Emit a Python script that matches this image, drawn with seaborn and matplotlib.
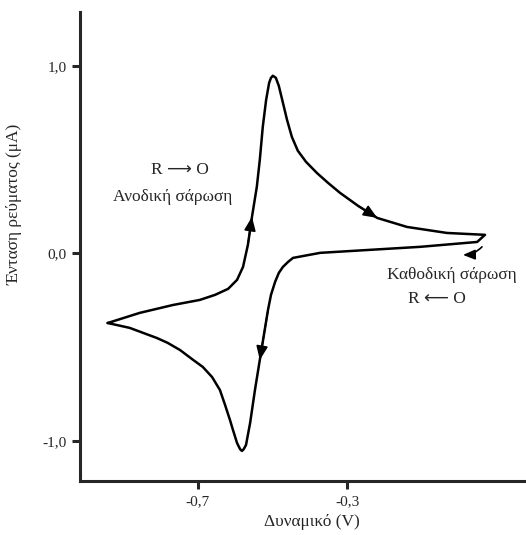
import numpy as np
import pandas as pd
import matplotlib
matplotlib.use("Agg")
import matplotlib.pyplot as plt
import seaborn as sns

# Δεδομένα κυκλικής βολταμμετρίας (εκτίμηση από την εικόνα)
# Ανοδική σάρωση: από το αριστερό άκρο προς τα δεξιά
dynamiko_anod = [-0.942, -0.856, -0.767, -0.695, -0.654, -0.619, -0.595, -0.579,
                 -0.566, -0.555, -0.542, -0.534, -0.526, -0.517, -0.509, -0.504,
                 -0.499, -0.491, -0.483, -0.472, -0.461, -0.448, -0.432, -0.410,
                 -0.381, -0.351, -0.319, -0.270, -0.219, -0.139, -0.032, 0.070]
entasi_anod = [-0.371, -0.317, -0.275, -0.248, -0.221, -0.189, -0.141, -0.072,
               0.045, 0.195, 0.355, 0.499, 0.675, 0.819, 0.909, 0.936,
               0.947, 0.936, 0.893, 0.803, 0.712, 0.621, 0.547, 0.488,
               0.429, 0.376, 0.323, 0.253, 0.189, 0.141, 0.109, 0.099]

# Καθοδική σάρωση: από το δεξί άκρο πίσω προς τα αριστερά
dynamiko_kath = [0.070, 0.049, -0.104, -0.238, -0.372, -0.445, -0.458, -0.472,
                 -0.483, -0.493, -0.504, -0.512, -0.534, -0.547, -0.560, -0.571,
                 -0.577, -0.582, -0.587, -0.595, -0.606, -0.614, -0.628, -0.641,
                 -0.662, -0.687, -0.716, -0.748, -0.781, -0.810, -0.883, -0.942]
entasi_kath = [0.099, 0.061, 0.035, 0.019, 0.003, -0.024, -0.045, -0.072,
               -0.104, -0.152, -0.221, -0.301, -0.568, -0.728, -0.904, -1.021,
               -1.043, -1.053, -1.043, -1.011, -0.941, -0.888, -0.803, -0.728,
               -0.659, -0.605, -0.563, -0.515, -0.477, -0.451, -0.397, -0.371]

x_ticks = [-0.7, -0.3]
x_tick_labels = ["-0,7", "-0,3"]
y_ticks = [1.0, 0.0, -1.0]
y_tick_labels = ["1,0", "0,0", "-1,0"]

df = pd.DataFrame({
    "V": dynamiko_anod + dynamiko_kath,
    "I": entasi_anod + entasi_kath,
})

sns.set_style("ticks")
plt.rcParams["font.family"] = ["Liberation Serif", "DejaVu Sans"]
plt.rcParams["font.size"] = 11

fig = plt.figure(figsize=(5.26, 5.35), dpi=100)
ax = fig.add_axes([0.153, 0.101, 0.847, 0.877])

sns.lineplot(data=df, x="V", y="I", sort=False, estimator=None,
             color="black", linewidth=1.8, ax=ax)

# Βέλη κατεύθυνσης πάνω στην καμπύλη
def velos(xs, ys, i):
    ax.annotate("", xy=(xs[i], ys[i]), xytext=(xs[i - 1], ys[i - 1]),
                arrowprops=dict(arrowstyle="-|>,head_length=0.6,head_width=0.25",
                                color="black", lw=1.2, shrinkA=0, shrinkB=0,
                                mutation_scale=14))

velos(dynamiko_anod, entasi_anod, 9)
velos(dynamiko_anod, entasi_anod, 28)
velos(dynamiko_kath, entasi_kath, 12)

# Μικρό καμπύλο βέλος για την καθοδική σάρωση
ax.annotate("", xy=(0.011, -0.008), xytext=(0.062, 0.035),
            arrowprops=dict(arrowstyle="-|>,head_length=0.6,head_width=0.25",
                            color="black", lw=1.2, mutation_scale=12,
                            connectionstyle="arc3,rad=-0.2",
                            shrinkA=0, shrinkB=0))

ax.text(-0.748, 0.445, "R \u27f6 O", ha="center", va="center", fontsize=12.5)
ax.text(-0.767, 0.301, "Ανοδική σάρωση", ha="center", va="center", fontsize=12.5)
ax.text(-0.020, -0.115, "Καθοδική σάρωση", ha="center", va="center", fontsize=12.5)
ax.text(-0.058, -0.243, "R \u27f5 O", ha="center", va="center", fontsize=12.5)

ax.set_xlim(-1.015, 0.18)
ax.set_ylim(-1.213, 1.288)
ax.set_xticks(x_ticks)
ax.set_xticklabels(x_tick_labels)
ax.set_yticks(y_ticks)
ax.set_yticklabels(y_tick_labels)

ax.set_xlabel("Δυναμικό (V)", fontsize=12.5)
ax.set_ylabel("Ένταση ρεύματος (μA)", fontsize=12.5)
ax.xaxis.set_label_coords(0.52, -0.07)
ax.yaxis.set_label_coords(-0.13, 0.59)

sns.despine(ax=ax)
for s in ["left", "bottom"]:
    ax.spines[s].set_linewidth(2.2)
ax.tick_params(length=6, width=2.2, pad=4, labelsize=11)

fig.savefig("out.png", dpi=100)
